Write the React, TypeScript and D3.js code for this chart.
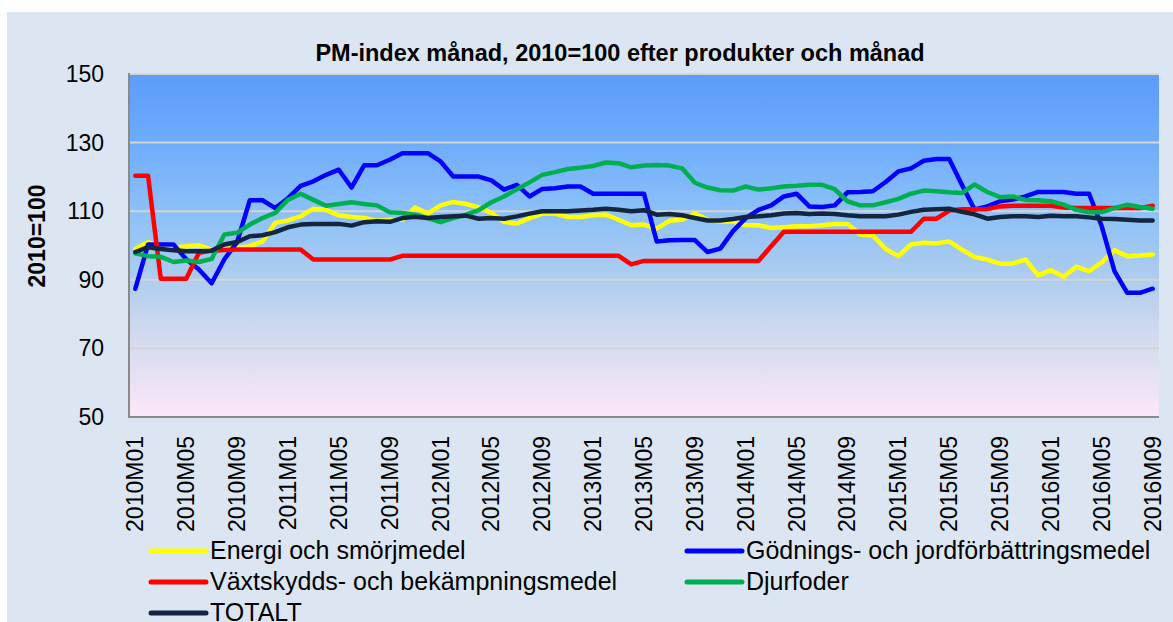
import React from "react";
import * as d3 from "d3";

const W = 1173;
const H = 622;

const years = [2010, 2011, 2012, 2013, 2014, 2015, 2016];
const categories: string[] = [];
years.forEach((y) => {
  for (let m = 1; m <= 12; m++) {
    if (y === 2016 && m > 9) break;
    categories.push(`${y}M${m < 10 ? "0" + m : m}`);
  }
});

const yTicks = [50, 70, 90, 110, 130, 150];

const energi = [99, 101, 99.8, 99.3, 99.8, 100, 98.8, 99, 99.3, 99.8, 101.2, 106.6, 107.3, 108.5, 110.7, 110.4, 108.8, 108.3, 108, 107.2, 107.5, 107.5, 111.1, 109.3, 111.7, 112.7, 112.1, 111.1, 109.5, 106.9, 106.4, 108, 109.3, 109.3, 108.3, 108.3, 108.8, 109, 107.5, 105.9, 106.1, 104.9, 107.2, 107.5, 109.3, 107.5, 107, 107, 105.9, 105.9, 105.1, 105.3, 105.6, 105.6, 105.9, 106.3, 106.3, 103.2, 102.9, 99, 96.9, 100.3, 100.8, 100.6, 101.2, 98.8, 96.6, 95.9, 94.7, 94.7, 95.9, 91.3, 92.8, 90.9, 93.8, 92.5, 95.1, 98.6, 96.9, 97.1, 97.4];

const godning = [87.4, 100.3, 100.3, 100.3, 96, 93, 89, 96, 101, 113.2, 113.2, 110.9, 113.8, 117.4, 118.7, 120.6, 122.1, 116.9, 123.4, 123.4, 125, 126.9, 126.9, 126.9, 124.5, 120.1, 120.1, 120.1, 119, 116.3, 117.7, 114.3, 116.5, 116.7, 117.2, 117.2, 115.1, 115.1, 115.1, 115.1, 115.1, 101.2, 101.5, 101.6, 101.6, 98.1, 99.1, 104.2, 108, 110.4, 111.7, 114.3, 115.1, 111.4, 111.2, 111.7, 115.5, 115.6, 115.8, 118.5, 121.6, 122.5, 124.7, 125.2, 125.2, 117.7, 110.5, 111.4, 112.9, 113.4, 114.3, 115.6, 115.6, 115.6, 115.1, 115.1, 105.6, 92.5, 86.2, 86.2, 87.4];

const vaxtskydd = [120.3, 120.3, 90.3, 90.3, 90.3, 97.9, 98.5, 98.7, 98.8, 98.8, 98.8, 98.8, 98.8, 98.8, 95.9, 95.9, 95.9, 95.9, 95.9, 95.9, 95.9, 97, 97, 97, 97, 97, 97, 97, 97, 97, 97, 97, 97, 97, 97, 97, 97, 97, 97, 94.5, 95.5, 95.5, 95.5, 95.5, 95.5, 95.5, 95.5, 95.5, 95.5, 95.5, 99.8, 104, 104, 104, 104, 104, 104, 104, 104, 104, 104, 104, 107.8, 107.8, 110.2, 110.6, 110.6, 110.6, 111.4, 111.6, 111.6, 111.6, 111.6, 111.1, 110.9, 110.9, 110.9, 110.9, 110.9, 110.9, 111.6];

const djurfoder = [97.7, 96.9, 96.7, 95.2, 95.6, 95.2, 96.1, 103.2, 103.7, 106.1, 108, 109.5, 113.3, 115.1, 113.3, 111.6, 112.1, 112.6, 112.1, 111.7, 109.7, 109.5, 109, 108, 106.8, 108, 109, 110.3, 112.6, 114.3, 116.4, 118.4, 120.6, 121.4, 122.3, 122.7, 123.2, 124.2, 124, 122.8, 123.3, 123.5, 123.3, 122.5, 118.3, 116.9, 116.1, 116, 117.2, 116.3, 116.7, 117.2, 117.4, 117.7, 117.7, 116.4, 112.9, 111.7, 111.7, 112.6, 113.6, 115.1, 116, 115.8, 115.5, 115.3, 117.8, 115.6, 114.1, 114.3, 113.3, 113.2, 112.9, 111.9, 110.4, 109.7, 109.7, 110.9, 111.9, 111.2, 110.7];

const totalt = [98.1, 99.5, 99, 98.6, 98.3, 98.3, 98.5, 100.3, 101, 102.7, 103, 103.9, 105.3, 106.1, 106.3, 106.3, 106.3, 105.8, 106.8, 107.1, 106.9, 108, 108.4, 108, 108.3, 108.5, 108.7, 107.8, 108, 107.8, 108.5, 109.3, 110, 110, 110, 110.2, 110.4, 110.7, 110.4, 110, 110.3, 109, 109.2, 108.8, 108, 107.3, 107.3, 107.7, 108.3, 108.5, 108.8, 109.3, 109.5, 109.2, 109.3, 109.2, 108.8, 108.5, 108.5, 108.5, 109, 109.8, 110.4, 110.6, 110.7, 109.8, 109.1, 107.8, 108.3, 108.5, 108.5, 108.3, 108.7, 108.5, 108.5, 108.2, 107.8, 107.7, 107.5, 107.3, 107.3];

const seriesNames = [
  "Energi och smörjmedel",
  "Gödnings- och jordförbättringsmedel",
  "Växtskydds- och bekämpningsmedel",
  "Djurfoder",
  "TOTALT",
];
const seriesValues = [energi, godning, vaxtskydd, djurfoder, totalt];
const seriesColors = ["#ffff00", "#0000ff", "#ff0000", "#00b050", "#13253f"];

const FONT = "'Liberation Sans', Arial, sans-serif";

export default function App() {
  const plot = { left: 129, right: 1159, top: 74, bottom: 417 };
  const x = d3
    .scalePoint<string>()
    .domain(categories)
    .range([plot.left, plot.right])
    .padding(0.5);
  const y = d3.scaleLinear().domain([50, 150]).range([plot.bottom, plot.top]);

  const line = d3
    .line<number>()
    .x((_, i) => x(categories[i]) as number)
    .y((d) => y(d));

  const tickCats = categories.filter((_, i) => i % 4 === 0);

  const legendItems = [
    { s: 0, col: 0, row: 0 },
    { s: 1, col: 1, row: 0 },
    { s: 2, col: 0, row: 1 },
    { s: 3, col: 1, row: 1 },
    { s: 4, col: 0, row: 2 },
  ];
  const legendCols = [151, 687];
  const legendRowY = [551, 582, 613];

  return (
    <svg
      width={W}
      height={H}
      style={{ position: "absolute", left: 0, top: 0, display: "block" }}
    >
      <defs>
        <linearGradient id="plotGrad" x1="0" y1="0" x2="0" y2="1">
          <stop offset="0%" stopColor="#5c9cfb" />
          <stop offset="20%" stopColor="#6eacfb" />
          <stop offset="40%" stopColor="#8cc0f8" />
          <stop offset="60%" stopColor="#aecdee" />
          <stop offset="78%" stopColor="#d6dbef" />
          <stop offset="100%" stopColor="#fbe8f7" />
        </linearGradient>
      </defs>
      <rect x={0} y={0} width={W} height={H} fill="#ffffff" />
      <rect x={7} y={12} width={W - 7} height={H - 12} fill="#dce6f2" />

      <text
        x={620}
        y={61}
        textAnchor="middle"
        fontFamily={FONT}
        fontWeight="bold"
        fontSize={23.5}
        fill="#000"
      >
        PM-index månad, 2010=100 efter produkter och månad
      </text>

      <rect
        x={plot.left}
        y={plot.top}
        width={plot.right - plot.left}
        height={plot.bottom - plot.top}
        fill="url(#plotGrad)"
      />

      {yTicks.slice(1).map((t) => (
        <line
          key={t}
          x1={plot.left}
          x2={plot.right}
          y1={y(t)}
          y2={y(t)}
          stroke="#d4d4d4"
          strokeWidth={2}
        />
      ))}
      <line
        x1={plot.left}
        x2={plot.right}
        y1={y(50)}
        y2={y(50)}
        stroke="#8a8a8a"
        strokeWidth={2}
      />
      <line
        x1={plot.left}
        x2={plot.left}
        y1={plot.top - 1}
        y2={plot.bottom + 1}
        stroke="#8a8a8a"
        strokeWidth={2}
      />

      {yTicks.map((t) => (
        <text
          key={t}
          x={104}
          y={y(t)}
          textAnchor="end"
          dominantBaseline="central"
          fontFamily={FONT}
          fontSize={23}
          fill="#000"
        >
          {t}
        </text>
      ))}

      <text
        transform={`translate(37,236) rotate(-90)`}
        textAnchor="middle"
        dominantBaseline="central"
        fontFamily={FONT}
        fontWeight="bold"
        fontSize={23}
        fill="#000"
      >
        2010=100
      </text>

      {tickCats.map((c) => (
        <text
          key={c}
          transform={`translate(${x(c)},436) rotate(-90)`}
          textAnchor="end"
          dominantBaseline="central"
          fontFamily={FONT}
          fontSize={23}
          fill="#000"
        >
          {c}
        </text>
      ))}

      {seriesValues.map((vals, si) => (
        <path
          key={si}
          d={line(vals) || ""}
          fill="none"
          stroke={seriesColors[si]}
          strokeWidth={4.5}
          strokeLinejoin="round"
          strokeLinecap="round"
        />
      ))}

      {legendItems.map((it) => {
        const lx = legendCols[it.col];
        const ly = legendRowY[it.row];
        return (
          <g key={it.s}>
            <line
              x1={lx}
              x2={lx + 55}
              y1={ly}
              y2={ly}
              stroke={seriesColors[it.s]}
              strokeWidth={5}
              strokeLinecap="round"
            />
            <text
              x={lx + 59}
              y={ly + 8}
              fontFamily={FONT}
              fontSize={25}
              fill="#000"
            >
              {seriesNames[it.s]}
            </text>
          </g>
        );
      })}
    </svg>
  );
}
